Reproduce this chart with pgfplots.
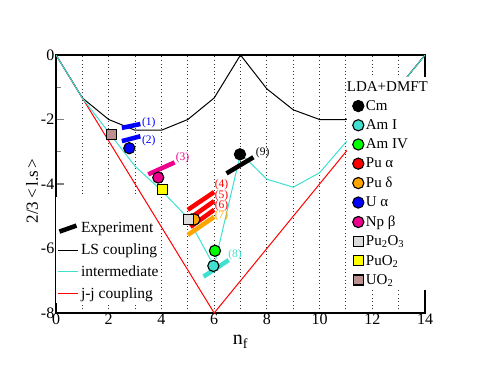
\documentclass[border=0pt]{standalone}
\usepackage{fontspec}
\setmainfont{Liberation Serif}
\usepackage{pgfplots}
\pgfplotsset{compat=1.18}

\definecolor{turq}{RGB}{64,224,208}
\definecolor{oran}{RGB}{255,165,0}
\definecolor{grn}{RGB}{0,255,0}
\definecolor{ltgray}{RGB}{220,220,220}
\definecolor{rosy}{RGB}{188,143,143}
\definecolor{yel}{RGB}{255,255,0}

\pgfplotsset{
  frame/.style={width=369pt,height=258pt,scale only axis,
    xmin=0,xmax=14,ymin=-8,ymax=0},
  mk/.style={only marks,mark=*,mark size=5.6pt,
    mark options={draw=black,line width=1.1pt,fill=#1}},
  sq/.style={only marks,mark=square*,mark size=5pt,
    mark options={draw=black,line width=1.1pt,fill=#1}},
  expt/.style={line width=4.5pt,#1},
  expimg/.style={legend image code/.code={\draw[black,line width=4.5pt] (1pt,-3pt)--(18pt,3pt);}},
}
\tikzset{ann/.style={font=\fontsize{11.5}{13}\selectfont,text=#1,inner sep=0pt}}

\begin{document}
\begin{tikzpicture}
% frame, grid and the left legend
\begin{axis}[
    frame,
    xtick={0,2,4,6,8,10,12,14},
    xticklabels={0,2,4,6,8,10,12,14},
    minor xtick={1,3,5,7,9,11,13},
    xmajorgrids, xminorgrids,
    major grid style={black!80,line width=0.9pt,dash pattern=on 1pt off 2.6pt},
    minor grid style={black!80,line width=0.9pt,dash pattern=on 1pt off 2.6pt},
    xtick style={draw=none},
    ytick={-8,-6,-4,-2,0},
    yticklabels={-8,-6,-4,-2,0},
    minor ytick={-7,-5,-3,-1},
    tick align=inside,
    major tick length=8pt, minor tick length=4.5pt,
    ytick style={line width=1.2pt},
    axis line style={line width=1.6pt},
    tick label style={font=\fontsize{16}{18}\selectfont},
    xticklabel style={inner sep=1pt},
    yticklabel style={inner sep=1.5pt},
    xlabel={n\textsubscript{f}},
    xlabel style={font=\fontsize{20}{22}\selectfont,
      at={(axis description cs:0.5,-0.124)},anchor=base},
    ylabel={2/3\,<\,l.s\,>},
    ylabel style={font=\fontsize{17}{19}\selectfont,
      at={(axis description cs:-0.065,0.473)},anchor=center},
    legend image code/.code={\draw[#1] (0pt,0pt)--(20pt,0pt);},
    legend style={at={(0,0.039)},anchor=south west,fill=white,draw=none,
      inner xsep=1pt,inner ysep=1pt,row sep=5.5pt,
      font=\fontsize{15.5}{17}\selectfont,
      cells={anchor=west}},
  ]
\addlegendimage{empty legend}
\addlegendentry{\strut}
\addlegendimage{expimg}
\addlegendentry{Experiment}
\addlegendimage{black,line width=1.1pt}
\addlegendentry{LS coupling}
\addlegendimage{turq,line width=1.1pt}
\addlegendentry{intermediate}
\addlegendimage{red,line width=1.1pt}
\addlegendentry{j-j coupling}
\coordinate (bl) at (rel axis cs:-0.1518,-0.2209);
\coordinate (tr) at (rel axis cs:1.1463,1.2132);
\end{axis}

% data and the LDA+DMFT legend
\begin{axis}[
    frame, hide axis,
    legend image code/.code={\draw[#1] plot coordinates {(0pt,0pt)};},
    legend style={at={(0.7886,0.915)},anchor=north west,fill=white,draw=none,
      inner xsep=5.5pt,inner ysep=2pt,row sep=3.8pt,
      font=\fontsize{15}{17}\selectfont,
      cells={anchor=west}},
  ]
% j-j coupling
\addplot[red,line width=1pt,forget plot] coordinates {(0,0) (6,-8) (14,0)};
% LS coupling
\addplot[black,line width=1pt,forget plot] coordinates {
  (0,0) (1,-1.333) (2,-2) (3,-2.333) (4,-2.333) (5,-2) (6,-1.333) (7,0)
  (8,-1.05) (9,-1.7) (10,-2) (11,-2) (12,-1.667) (13,-1) (14,0)};
% intermediate coupling
\addplot[turq,line width=1pt,forget plot] coordinates {
  (0,0) (1,-1.333) (2,-2.4) (3,-3.45) (4,-4.2) (5,-5.05) (6,-6.55) (7,-3.05)
  (8,-3.85) (9,-4.1) (10,-3.65) (11,-2.7) (12,-2.0) (13,-1) (14,0)};
% experiment
\addplot[expt=blue,forget plot] coordinates {(2.5,-2.26) (3.2,-2.14)};
\addplot[expt=blue,forget plot] coordinates {(2.5,-2.67) (3.2,-2.52)};
\addplot[expt=magenta,forget plot] coordinates {(3.5,-3.70) (4.5,-3.33)};
\addplot[expt=red,forget plot] coordinates {(5.0,-4.80) (6.0,-4.25)};
\addplot[expt=red,forget plot] coordinates {(5.05,-5.08) (6.0,-4.53)};
\addplot[expt=red,forget plot] coordinates {(5.1,-5.33) (6.0,-4.80)};
\addplot[expt=oran,forget plot] coordinates {(5.0,-5.58) (6.0,-5.02)};
\addplot[expt=turq,forget plot] coordinates {(5.6,-6.87) (6.55,-6.36)};
\addplot[expt=black,forget plot] coordinates {(6.47,-3.67) (7.49,-3.17)};
\node[ann=blue] at (axis cs:3.52,-2.10) {(1)};
\node[ann=blue] at (axis cs:3.52,-2.66) {(2)};
\node[ann=magenta] at (axis cs:4.8,-3.2) {(3)};
\node[ann=red] at (axis cs:6.28,-4.03) {(4)};
\node[ann=red] at (axis cs:6.28,-4.36) {(5)};
\node[ann=red] at (axis cs:6.28,-4.68) {(6)};
\node[ann=oran] at (axis cs:6.28,-4.99) {(7)};
\node[ann=turq] at (axis cs:6.79,-6.20) {(8)};
\node[ann=black] at (axis cs:7.84,-3.03) {(9)};
% LDA+DMFT
\addlegendimage{empty legend}
\addlegendentry{\hspace{-19pt}LDA+DMFT}
\addplot[mk=black] coordinates {(6.98,-3.08)};
\addlegendentry{Cm}
\addplot[mk=turq] coordinates {(5.97,-6.54)};
\addlegendentry{Am I}
\addplot[mk=grn] coordinates {(6.03,-6.07)};
\addlegendentry{Am IV}
\addplot[mk=red] coordinates {(5.15,-5.1)};
\addlegendentry{Pu α}
\addplot[mk=oran] coordinates {(5.25,-5.1)};
\addlegendentry{Pu δ}
\addplot[mk=blue] coordinates {(2.78,-2.89)};
\addlegendentry{U α}
\addplot[mk=magenta] coordinates {(3.88,-3.80)};
\addlegendentry{Np β}
\addplot[sq=ltgray] coordinates {(5.03,-5.1)};
\addlegendentry{Pu\textsubscript{2}O\textsubscript{3}}
\addplot[sq=yel] coordinates {(4.03,-4.16)};
\addlegendentry{PuO\textsubscript{2}}
\addplot[sq=rosy] coordinates {(2.11,-2.46)};
\addlegendentry{UO\textsubscript{2}}
\end{axis}
\pgfresetboundingbox
\path[use as bounding box] (bl) rectangle (tr);
\end{tikzpicture}
\end{document}
